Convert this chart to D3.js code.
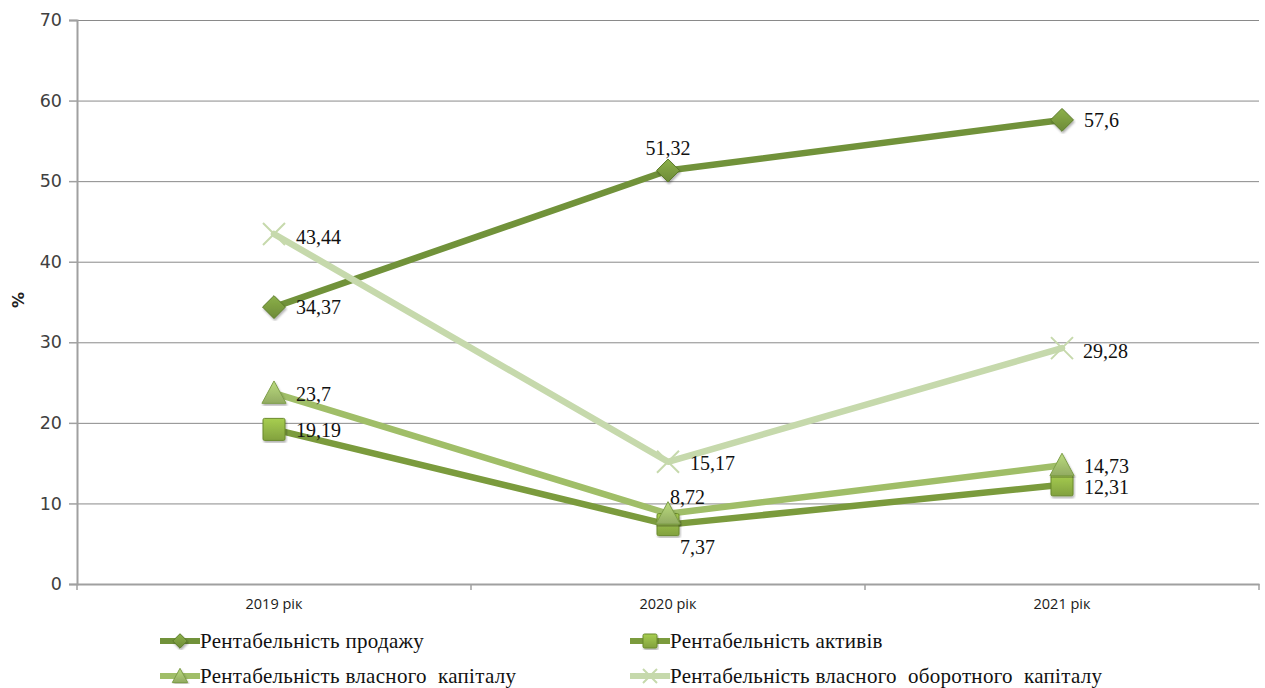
<!DOCTYPE html>
<html>
<head>
<meta charset="utf-8">
<script src="https://cdn.jsdelivr.net/npm/d3@7"></script>
<style>
  html, body { margin: 0; padding: 0; background: #fff; }
  svg { display: block; }
</style>
</head>
<body>
<svg id="chart" width="1265" height="688"></svg>
<script>
// Categories and series values
const years = ["2019 рік", "2020 рік", "2021 рік"];
const seriesNames = [
  "Рентабельність продажу",
  "Рентабельність активів",
  "Рентабельність власного  капіталу",
  "Рентабельність власного  оборотного  капіталу"
];
const salesValues = [34.37, 51.32, 57.6];
const assetsValues = [19.19, 7.37, 12.31];
const equityValues = [23.7, 8.72, 14.73];
const workingCapitalValues = [43.44, 15.17, 29.28];
const yTicks = [0, 10, 20, 30, 40, 50, 60, 70];

// Visual styling per series
const styles = [
  { line: "#71923A", fill: "#7C9C40", dark: "#5A7A28", marker: "diamond" },
  { line: "#7B9B3D", fill: "#93B647", dark: "#6A8A2C", marker: "square" },
  { line: "#A0BE68", fill: "#A5C26F", dark: "#7E9E4A", marker: "triangle" },
  { line: "#C6D9AC", fill: "#C6D9AC", dark: "#B5CB96", marker: "cross" }
];
// Data label offsets (dx, dy, anchor) per series per point
const labelOffsets = [
  [[22, 0, "start"], [0, -23, "middle"], [22, 0, "start"]],
  [[22, 1, "start"], [12, 22, "start"], [22, 2, "start"]],
  [[22, 1, "start"], [2, -17, "start"], [22, 1, "start"]],
  [[22, 3, "start"], [22, 1, "start"], [21, 3, "start"]]
];

const allValues = [salesValues, assetsValues, equityValues, workingCapitalValues];

const svg = d3.select("#chart");
const margin = { left: 77, right: 6, top: 20, bottom: 104 };
const W = 1265, H = 688;
const x = d3.scaleBand().domain(years).range([margin.left, W - margin.right]);
const y = d3.scaleLinear().domain([0, 70]).range([H - margin.bottom, margin.top]);

// Gradients for markers
const defs = svg.append("defs");
styles.forEach((s, i) => {
  const g = defs.append("linearGradient").attr("id", "grad" + i)
    .attr("x1", 0).attr("y1", 0).attr("x2", 0).attr("y2", 1);
  g.append("stop").attr("offset", "0%").attr("stop-color", d3.color(s.fill).brighter(0.35));
  g.append("stop").attr("offset", "100%").attr("stop-color", d3.color(s.fill).darker(0.35));
});
defs.append("filter").attr("id", "shadow")
  .append("feDropShadow").attr("dx", 1).attr("dy", 2).attr("stdDeviation", 1.2)
  .attr("flood-color", "#000").attr("flood-opacity", 0.3);

// Gridlines
svg.append("g")
  .selectAll("line").data(yTicks.filter(t => t > 0)).join("line")
  .attr("x1", margin.left).attr("x2", W - margin.right)
  .attr("y1", d => y(d) + 0.5).attr("y2", d => y(d) + 0.5)
  .attr("stroke", "#8a8a8a").attr("stroke-width", 1);

// Y axis
const yAxis = svg.append("g")
  .attr("transform", `translate(${margin.left},0)`)
  .call(d3.axisLeft(y).tickValues(yTicks).tickSize(8).tickPadding(7));
yAxis.select(".domain").attr("stroke", "#a0a0a0").attr("stroke-width", 2);
yAxis.selectAll(".tick line").attr("stroke", "#a0a0a0").attr("stroke-width", 1.5);
yAxis.selectAll(".tick text")
  .attr("font-family", "'DejaVu Sans', Verdana, sans-serif")
  .attr("font-size", 17.5).attr("fill", "#404040");

// X axis
const xAxis = svg.append("g")
  .attr("transform", `translate(0,${y(0)})`)
  .call(d3.axisBottom(x).tickSize(0).tickPadding(15));
xAxis.select(".domain").attr("stroke", "#a0a0a0").attr("stroke-width", 2);
xAxis.selectAll(".tick text")
  .attr("font-family", "'Open Sans', Calibri, sans-serif")
  .attr("font-size", 14.5).attr("fill", "#202020");
// category boundary ticks
const bounds = years.map(d => x(d)).concat([x(years[years.length - 1]) + x.bandwidth()]);
svg.append("g").selectAll("line").data(bounds).join("line")
  .attr("x1", d => d).attr("x2", d => d)
  .attr("y1", y(0)).attr("y2", y(0) + 6)
  .attr("stroke", "#a0a0a0").attr("stroke-width", 1.5);

// Y title
svg.append("text")
  .attr("transform", `translate(24,300) rotate(-90)`)
  .attr("text-anchor", "middle")
  .attr("font-family", "'DejaVu Sans', Verdana, sans-serif")
  .attr("font-weight", "bold").attr("font-size", 16).attr("fill", "#202020")
  .text("%");

const cx = d => x(d) + x.bandwidth() / 2;

function drawMarker(g, type, i, size) {
  const s = styles[i];
  if (type === "diamond") {
    const r = size * 0.52;
    g.append("path").attr("d", `M0,${-r}L${r},0L0,${r}L${-r},0Z`)
      .attr("fill", `url(#grad${i})`).attr("stroke", s.dark).attr("stroke-width", 1)
      .attr("filter", "url(#shadow)");
  } else if (type === "square") {
    const r = size * 0.5;
    g.append("rect").attr("x", -r).attr("y", -r).attr("width", 2 * r).attr("height", 2 * r)
      .attr("rx", 1.5)
      .attr("fill", `url(#grad${i})`).attr("stroke", s.dark).attr("stroke-width", 1)
      .attr("filter", "url(#shadow)");
  } else if (type === "triangle") {
    const r = size * 0.55;
    g.append("path").attr("d", `M0,${-r}L${r},${r * 0.85}L${-r},${r * 0.85}Z`)
      .attr("fill", `url(#grad${i})`).attr("stroke", s.dark).attr("stroke-width", 1)
      .attr("filter", "url(#shadow)");
  } else {
    const r = size * 0.5;
    g.append("path").attr("d", `M${-r},${-r}L${r},${r}M${r},${-r}L${-r},${r}`)
      .attr("stroke", s.fill).attr("stroke-width", 2).attr("fill", "none");
  }
}

// Lines
const line = d3.line().x((d, j) => cx(years[j])).y(d => y(d));
allValues.forEach((vals, i) => {
  svg.append("path").datum(vals)
    .attr("d", line)
    .attr("fill", "none").attr("stroke", styles[i].line)
    .attr("stroke-width", 6.5).attr("stroke-linejoin", "round").attr("stroke-linecap", "round");
});

// Markers
allValues.forEach((vals, i) => {
  vals.forEach((v, j) => {
    const g = svg.append("g").attr("transform", `translate(${cx(years[j])},${y(v)})`);
    drawMarker(g, styles[i].marker, i, 22);
  });
});

// Data labels
const fmt = v => String(v).replace(".", ",");
allValues.forEach((vals, i) => {
  vals.forEach((v, j) => {
    const [dx, dy, anchor] = labelOffsets[i][j];
    svg.append("text")
      .attr("x", cx(years[j]) + dx).attr("y", y(v) + dy)
      .attr("dy", "0.35em").attr("text-anchor", anchor)
      .attr("font-family", "'Liberation Serif', 'Times New Roman', serif")
      .attr("font-size", 20).attr("fill", "#111")
      .text(fmt(v));
  });
});

// Legend
const legendPos = [[160, 641], [630, 641], [160, 676], [630, 676]];
seriesNames.forEach((name, i) => {
  const [lx, ly] = legendPos[i];
  const g = svg.append("g").attr("transform", `translate(${lx},${ly})`);
  g.append("line").attr("x1", 0).attr("x2", 40).attr("y1", 0).attr("y2", 0)
    .attr("stroke", styles[i].line).attr("stroke-width", 6);
  const m = g.append("g").attr("transform", "translate(20,0)");
  drawMarker(m, styles[i].marker, i, 14);
  g.append("text").attr("x", 40).attr("y", 0).attr("dy", "0.35em")
    .attr("font-family", "'Liberation Serif', 'Times New Roman', serif")
    .attr("font-size", 21).attr("letter-spacing", 0.3).attr("fill", "#111")
    .attr("xml:space", "preserve")
    .style("white-space", "pre")
    .text(name);
});
</script>
</body>
</html>
